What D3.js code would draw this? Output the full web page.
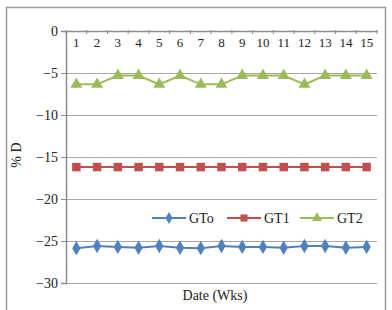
<!DOCTYPE html>
<html>
<head>
<meta charset="utf-8">
<script src="https://cdn.jsdelivr.net/npm/d3@7"></script>
<style>
  html, body { margin: 0; padding: 0; background: #fff; }
  svg { display: block; font-family: "Liberation Serif", "Times New Roman", serif; }
</style>
</head>
<body>
<svg id="chart" width="392" height="310"></svg>
<script>
  const weeks = d3.range(1, 16).map(String);
  const yTicks = [0, -5, -10, -15, -20, -25, -30];

  const gto = [-25.85, -25.6, -25.7, -25.8, -25.6, -25.8, -25.85, -25.6, -25.7, -25.7, -25.8, -25.6, -25.6, -25.8, -25.7];
  const gt1 = [-16.2, -16.2, -16.2, -16.2, -16.2, -16.2, -16.2, -16.2, -16.2, -16.2, -16.2, -16.2, -16.2, -16.2, -16.2];
  const gt2 = [-6.35, -6.35, -5.3, -5.3, -6.35, -5.3, -6.35, -6.35, -5.3, -5.3, -5.3, -6.35, -5.3, -5.3, -5.3];

  const seriesNames = ["GTo", "GT1", "GT2"];
  const seriesData  = [gto, gt1, gt2];

(function () {
  "use strict";

  const serif = "'Liberation Serif', 'Times New Roman', serif";
  const colors  = ["#4F81BD", "#C0504D", "#9BBB59"];
  const symbols = [d3.symbolDiamond, d3.symbolSquare, d3.symbolTriangle];
  const symSize = [60, 72, 62];

  const svg = d3.select("#chart");

  // outer frame
  svg.append("rect")
    .attr("x", 6.5).attr("y", 7.5)
    .attr("width", 379).attr("height", 310)
    .attr("fill", "none").attr("stroke", "#9a9a9a").attr("stroke-width", 1.5);

  const pl = 66, pr = 377, pt = 31, pb = 283;

  const x = d3.scaleBand().domain(weeks).range([pl, pr]);
  const y = d3.scaleLinear().domain([-30, 0]).range([pb, pt]);

  // gridlines
  svg.append("g")
    .selectAll("line")
    .data(yTicks.filter(d => d !== 0))
    .join("line")
    .attr("x1", pl).attr("x2", pr)
    .attr("y1", d => Math.round(y(d)) + 0.5).attr("y2", d => Math.round(y(d)) + 0.5)
    .attr("stroke", "#a6a6a6").attr("stroke-width", 1.2);

  // y axis
  const yAxis = svg.append("g")
    .attr("transform", `translate(${pl},0)`)
    .call(d3.axisLeft(y).tickValues(yTicks).tickSize(5).tickPadding(3)
      .tickFormat(d => d === 0 ? "0" : "\u2212" + Math.abs(d)));
  yAxis.attr("font-family", serif).attr("font-size", 14);
  yAxis.select(".domain").attr("stroke", "#8c8c8c").attr("stroke-width", 1.5);
  yAxis.selectAll(".tick line").attr("stroke", "#8c8c8c");
  yAxis.selectAll(".tick text").attr("fill", "#222");

  // x axis at top (value 0), ticks pointing into the plot
  const xAxis = svg.append("g")
    .attr("transform", `translate(0,${y(0)})`)
    .call(d3.axisBottom(x).tickSize(0).tickPadding(7));
  xAxis.attr("font-family", serif).attr("font-size", 13);
  xAxis.select(".domain").attr("stroke", "#8c8c8c").attr("stroke-width", 1.5);
  xAxis.selectAll(".tick text").attr("fill", "#222");
  xAxis.append("g")
    .selectAll("line")
    .data(d3.range(weeks.length + 1))
    .join("line")
    .attr("x1", i => pl + i * x.bandwidth()).attr("x2", i => pl + i * x.bandwidth())
    .attr("y1", -1).attr("y2", 3)
    .attr("stroke", "#8c8c8c");

  // series
  const line = d3.line().x((d, i) => x(weeks[i]) + x.bandwidth() / 2).y(d => y(d));
  seriesData.forEach((vals, k) => {
    svg.append("path")
      .datum(vals)
      .attr("d", line)
      .attr("fill", "none")
      .attr("stroke", colors[k])
      .attr("stroke-width", 2);
    svg.append("g")
      .selectAll("path")
      .data(vals)
      .join("path")
      .attr("transform", (d, i) => `translate(${x(weeks[i]) + x.bandwidth() / 2},${y(d)})`)
      .attr("d", d3.symbol().type(symbols[k]).size(symSize[k]))
      .attr("fill", colors[k]);
  });

  // legend
  const legendX = [152, 227, 300];
  const legend = svg.append("g").attr("transform", "translate(0,218)");
  seriesNames.forEach((name, k) => {
    const g = legend.append("g").attr("transform", `translate(${legendX[k]},0)`);
    g.append("line").attr("x1", 0).attr("x2", 34).attr("y1", 0).attr("y2", 0)
      .attr("stroke", colors[k]).attr("stroke-width", 2);
    g.append("path").attr("transform", "translate(17,0)")
      .attr("d", d3.symbol().type(symbols[k]).size(symSize[k] * 0.7))
      .attr("fill", colors[k]);
    g.append("text").attr("x", 37).attr("y", 0).attr("dy", "0.35em")
      .attr("font-size", 14).attr("fill", "#222").text(name);
  });

  // axis titles
  svg.append("text")
    .attr("x", 215).attr("y", 300)
    .attr("text-anchor", "middle").attr("font-size", 14).attr("fill", "#222")
    .text("Date (Wks)");
  svg.append("text")
    .attr("transform", "translate(21,155) rotate(-90)")
    .attr("text-anchor", "middle").attr("font-size", 14).attr("fill", "#222")
    .text("% D");
})();
</script>
</body>
</html>
